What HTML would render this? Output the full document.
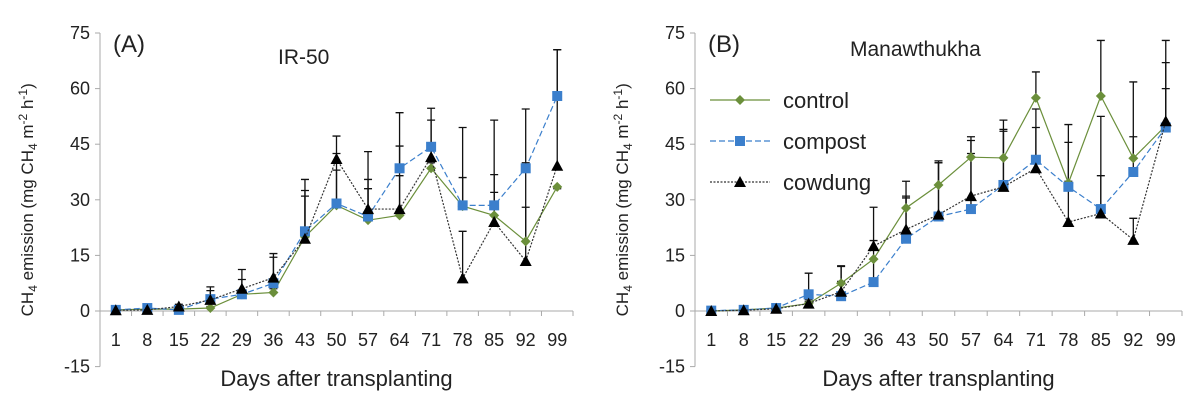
<!DOCTYPE html>
<html><head><meta charset="utf-8"><style>
body{margin:0;background:#fff;}
svg text{font-family:"Liberation Sans",sans-serif;fill:#222;}
</style></head><body>
<svg id="chart" width="1200" height="409" viewBox="0 0 1200 409" xmlns="http://www.w3.org/2000/svg"></svg>
<script>
const categories=[1,8,15,22,29,36,43,50,57,64,71,78,85,92,99];
const yTicks=[-15,0,15,30,45,60,75];
const seriesNames=["control","compost","cowdung"];
const aControl=[0.3,0.5,0.5,0.8,4.5,5,20,28.5,24.5,25.8,38.5,28.3,25.8,18.8,33.5];
const aCompost=[0.3,0.8,0.3,3.2,4.5,7.5,21.5,29,25.5,38.5,44.3,28.5,28.5,38.5,58];
const aCowdung=[0.2,0.3,1.2,3,6,9,19.5,41,27.5,27.5,41.5,8.8,24,13.5,39.2];
const aControlTop=[0.5,0.6,0.8,1.2,5.5,6,31,42.5,33,36.5,40,36,32,40,33];
const aCompostTop=[0.5,1,1,5.5,8.5,14.5,32.5,38,35.5,44.5,51.5,49.5,36.8,54.5,70.5];
const aCowdungTop=[0.5,0.8,1.8,6.5,11.2,15.5,35.5,47.2,43,53.5,54.7,21.5,51.5,28,70.5];
const bControl=[0,0.3,0.8,2,7.5,14,27.8,34,41.5,41.3,57.5,34.5,58,41.2,50];
const bCompost=[0.1,0.3,0.8,4.5,4,7.8,19.5,25.5,27.5,34,40.8,33.5,27.5,37.5,49.5];
const bCowdung=[0,0.2,0.6,2,5.2,17.5,22,26,31,33.5,38.5,24,26.3,19.2,51.2];
const bControlTop=[0.5,0.5,1,2.5,12,19,35,40.5,47,51.5,64.5,45.5,73,47,60];
const bCompostTop=[0.5,0.5,1.5,10.2,8,14,30.5,40,46,48.5,54.5,50.3,52.5,61.8,67];
const bCowdungTop=[0.3,0.3,1,3,12.2,28,31,40,42.5,49,49.5,35,36.5,25,73];

const svg=document.getElementById('chart');
const NS="http://www.w3.org/2000/svg";
function mk(tag,attrs,parent){const e=document.createElementNS(NS,tag);for(const k in attrs)e.setAttribute(k,attrs[k]);(parent||svg).appendChild(e);return e;}
const colors=["#6b8f3b","#3b7fcc","#000"];
const dashes=["none","6,3","2,1.5"];

function panel(ox,right,letter,title,titleX,titleY,data,tops,legend){
  const g=mk('g',{});
  
  
  const y=v=>311-(v)*(278/75);
  const step=(right-ox)/categories.length;
  const x=i=>ox+step*(i+0.5);
  const ya=mk('line',{x1:ox,y1:y(75),x2:ox,y2:y(-15),stroke:'#aaa','stroke-width':1},g);
  
  yTicks.forEach(t=>{
    mk('line',{x1:ox-5,y1:y(t),x2:ox,y2:y(t),stroke:'#aaa'},g);
    const tx=mk('text',{x:ox-10,y:y(t)+6,'text-anchor':'end','font-size':18},g);tx.textContent=t;
    
  });
  const xa=mk('line',{x1:ox,y1:y(0),x2:right,y2:y(0),stroke:'#aaa'},g);
  
  for(let i=0;i<=categories.length;i++)mk('line',{x1:ox+step*i,y1:y(0),x2:ox+step*i,y2:y(0)+5,stroke:'#aaa'},g);
  categories.forEach((c,i)=>{const t=mk('text',{x:x(i),y:346,'text-anchor':'middle','font-size':18},g);t.textContent=c;
    });
  const xt=mk('text',{x:(ox+right)/2,y:386,'text-anchor':'middle','font-size':22},g);xt.textContent='Days after transplanting';
  
  const yl=mk('text',{x:0,y:0,'text-anchor':'middle','font-size':17,transform:`translate(${ox-67},${y(30)}) rotate(-90)`},g);
  yl.innerHTML='CH<tspan font-size="12" dy="4">4</tspan><tspan dy="-4"> emission (mg CH</tspan><tspan font-size="12" dy="4">4</tspan><tspan dy="-4"> m</tspan><tspan font-size="12" dy="-6">-2</tspan><tspan dy="6"> h</tspan><tspan font-size="12" dy="-6">-1</tspan><tspan dy="6">)</tspan>';
  
  const lt=mk('text',{x:ox+13,y:52,'font-size':24},g);lt.textContent='('+letter+')';
  
  const tt=mk('text',{x:titleX,y:titleY,'font-size':21},g);tt.textContent=title;
  
  [2,1,0].forEach(s=>{
    data[s].forEach((v,i)=>{
      const e=mk('path',{d:`M${x(i)},${y(v)}V${y(tops[s][i])}M${x(i)-4},${y(tops[s][i])}H${x(i)+4}`,stroke:'#111','stroke-width':1.3,fill:'none'},g);
      
    });
  });
  [0,1,2].forEach(s=>{
    const pl=mk('polyline',{points:data[s].map((v,i)=>x(i)+','+y(v)).join(' '),fill:'none',stroke:s==2?'#333':colors[s],'stroke-width':1.2,'stroke-dasharray':dashes[s]},g);
    
    data[s].forEach((v,i)=>{const m=marker(s,x(i),y(v),g);
      });
  });
  if(legend){
    seriesNames.forEach((n,s)=>{
      const ly=100+s*41;
      const lg=mk('g',{},g);
      
      mk('line',{x1:ox+15,y1:ly,x2:ox+75,y2:ly,stroke:s==2?'#333':colors[s],'stroke-width':1.2,'stroke-dasharray':dashes[s]},lg);
      marker(s,ox+45,ly,lg);
      const t=mk('text',{x:ox+88,y:ly+8,'font-size':22},lg);t.textContent=n;
    });
  }
}
function marker(s,cx,cy,p){
  if(s==0)return mk('path',{d:`M${cx},${cy-5}L${cx+5},${cy}L${cx},${cy+5}L${cx-5},${cy}Z`,fill:colors[0]},p);
  if(s==1)return mk('rect',{x:cx-5,y:cy-5,width:10,height:10,fill:colors[1]},p);
  return mk('path',{d:`M${cx},${cy-6}L${cx+6},${cy+5}L${cx-6},${cy+5}Z`,fill:'#000'},p);
}
panel(100,573,'A','IR-50',278,64,[aControl,aCompost,aCowdung],[aControlTop,aCompostTop,aCowdungTop],false);
panel(695,1182,'B','Manawthukha',850,56,[bControl,bCompost,bCowdung],[bControlTop,bCompostTop,bCowdungTop],true);
</script>
</body></html>
